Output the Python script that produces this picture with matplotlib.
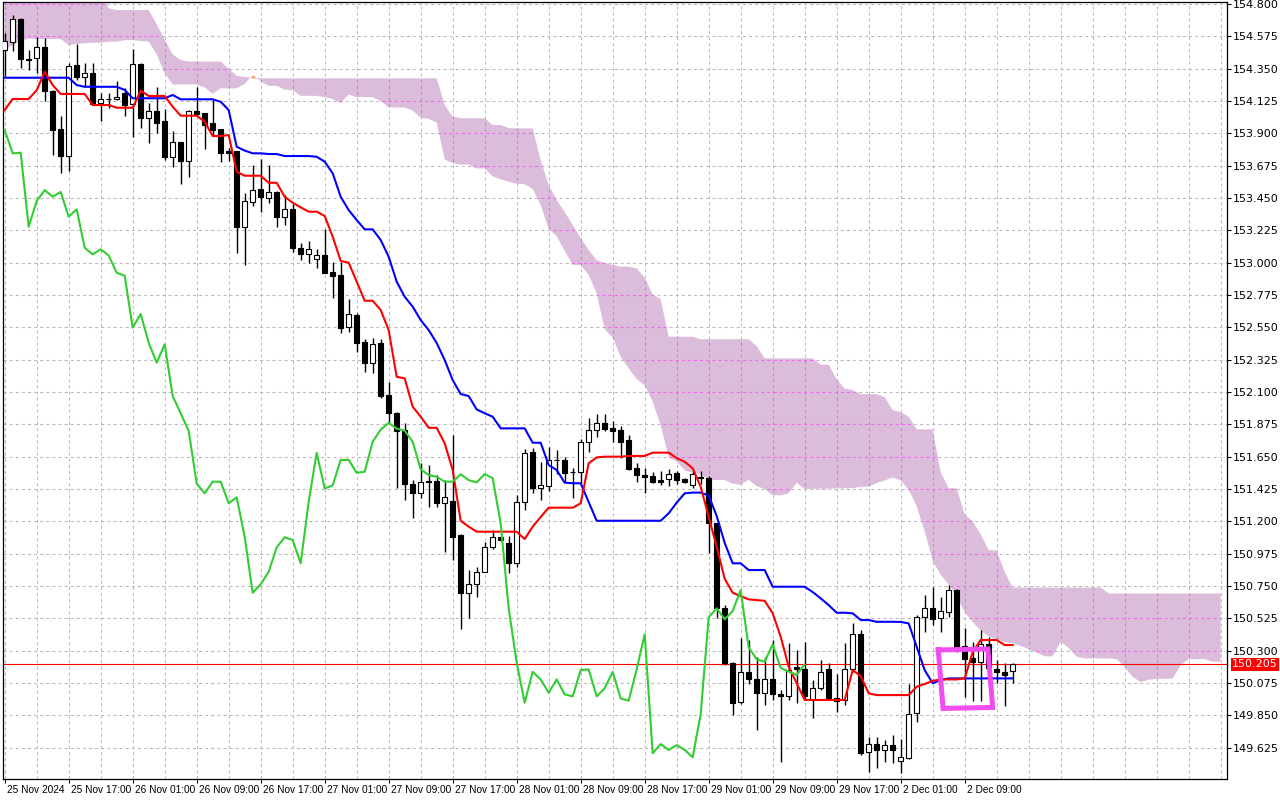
import matplotlib
matplotlib.use("Agg")
import matplotlib.pyplot as plt
import matplotlib.transforms as mtransforms
from matplotlib.path import Path
import numpy as np

plt.rcParams['font.family'] = ['DejaVu Sans']
plt.rcParams['lines.scale_dashes'] = False

# hourly candles, 25 Nov 09:00 .. 2 Dec 15:00
opens = [154.48, 154.538, 154.694, 154.42, 154.422, 154.499, 154.197, 153.932, 153.744, 154.376,
         154.290, 154.318, 154.109, 154.137, 154.137, 154.183, 154.102, 154.380, 154.009, 154.055,
         153.986, 153.733, 153.837, 153.709, 154.055, 154.040, 153.974, 153.928, 153.779, 153.777,
         153.250, 153.424, 153.513, 153.452, 153.492, 153.320, 153.371, 153.104, 153.058, 153.023,
         153.051, 152.933, 152.914, 152.550, 152.636, 152.446, 152.304, 152.439, 152.079, 151.952,
         151.835, 151.463, 151.395, 151.480, 151.483, 151.326, 151.341, 151.105, 150.703, 150.762,
         150.849, 151.019, 151.089, 151.047, 150.908, 151.336, 151.680, 151.429, 151.443, 151.627,
         151.627, 151.545, 151.545, 151.754, 151.838, 151.885, 151.847, 151.838, 151.766, 151.569,
         151.520, 151.517, 151.485, 151.493, 151.534, 151.494, 151.452, 151.510, 151.503, 151.186,
         150.595, 150.216, 149.941, 150.153, 150.100, 150.007, 150.100, 150.000, 149.986, 150.184,
         150.170, 149.957, 150.038, 150.170, 149.968, 149.957, 150.170, 150.414, 149.597, 149.650,
         149.609, 149.643, 149.534, 149.551, 149.864, 150.532, 150.595, 150.525, 150.571, 150.722,
         150.333, 150.247, 150.223, 150.344, 150.170, 150.154, 150.160]
highs = [154.60, 154.723, 154.70, 154.48, 154.568, 154.561, 154.20, 154.021, 154.392, 154.522,
         154.387, 154.387, 154.179, 154.18, 154.264, 154.213, 154.485, 154.39, 154.113, 154.220,
         154.069, 153.916, 153.84, 154.06, 154.220, 154.045, 154.132, 153.93, 153.80, 153.78,
         153.483, 153.680, 153.721, 153.680, 153.50, 153.471, 153.408, 153.139, 153.151, 153.095,
         153.232, 153.007, 153.007, 152.745, 152.652, 152.467, 152.474, 152.467, 152.167, 151.96,
         151.886, 151.487, 151.608, 151.592, 151.522, 151.487, 151.801, 151.11, 150.861, 150.880,
         151.058, 151.142, 151.10, 151.098, 151.384, 151.700, 151.71, 151.613, 151.720, 151.696,
         151.650, 151.569, 151.776, 151.917, 151.948, 151.950, 151.90, 151.862, 151.80, 151.603,
         151.569, 151.545, 151.552, 151.562, 151.552, 151.50, 151.552, 151.55, 151.515, 151.19,
         150.617, 150.22, 150.386, 150.374, 150.258, 150.258, 150.374, 150.026, 150.351, 150.304,
         150.362, 150.096, 150.235, 150.212, 150.14, 150.351, 150.490, 150.445, 149.701, 149.701,
         149.678, 149.713, 149.683, 150.068, 150.55, 150.687, 150.745, 150.675, 150.755, 150.73,
         150.455, 150.362, 150.444, 150.397, 150.235, 150.212, 150.214]
lows = [154.30, 154.475, 154.352, 154.34, 154.318, 154.127, 153.749, 153.626, 153.640, 154.271,
        154.224, 154.10, 153.988, 154.074, 154.13, 154.021, 153.877, 153.935, 153.835, 153.900,
        153.714, 153.664, 153.545, 153.598, 154.027, 153.789, 153.88, 153.703, 153.71, 153.069,
        152.984, 153.394, 153.355, 153.413, 153.250, 153.262, 153.076, 153.019, 153.0, 152.965,
        152.93, 152.752, 152.508, 152.520, 152.380, 152.241, 152.230, 152.056, 151.882, 151.43,
        151.348, 151.221, 151.360, 151.302, 151.302, 150.989, 150.931, 150.448, 150.529, 150.675,
        150.845, 151.01, 151.06, 150.838, 150.880, 151.279, 151.400, 151.348, 151.410, 151.529,
        151.476, 151.360, 151.464, 151.684, 151.786, 151.826, 151.750, 151.638, 151.56, 151.476,
        151.400, 151.464, 151.452, 151.445, 151.459, 151.464, 151.430, 151.46, 150.977, 150.525,
        150.20, 149.852, 149.93, 150.068, 149.748, 149.922, 149.956, 149.527, 149.956, 149.934,
        149.956, 149.829, 150.026, 149.956, 149.875, 149.922, 150.15, 149.574, 149.457, 149.481,
        149.527, 149.516, 149.446, 149.544, 149.806, 150.432, 150.479, 150.432, 150.536, 150.293,
        149.979, 149.947, 149.947, 150.15, 150.073, 149.915, 150.073]
closes = [154.54, 154.694, 154.417, 154.41, 154.503, 154.197, 153.923, 153.744, 154.369, 154.290,
          154.318, 154.104, 154.137, 154.14, 154.151, 154.097, 154.380, 154.009, 154.055, 153.974,
          153.737, 153.837, 153.709, 154.055, 154.037, 153.958, 153.923, 153.761, 153.765, 153.250,
          153.429, 153.505, 153.459, 153.492, 153.320, 153.371, 153.104, 153.058, 153.093, 153.051,
          152.930, 152.909, 152.548, 152.643, 152.443, 152.304, 152.432, 152.072, 151.952, 151.830,
          151.463, 151.395, 151.476, 151.476, 151.326, 151.367, 151.093, 150.703, 150.762, 150.849,
          151.019, 151.089, 151.070, 150.908, 151.336, 151.677, 151.429, 151.450, 151.627, 151.627,
          151.538, 151.545, 151.754, 151.838, 151.885, 151.845, 151.831, 151.754, 151.562, 151.522,
          151.510, 151.476, 151.476, 151.527, 151.487, 151.471, 151.529, 151.50, 151.186, 150.594,
          150.216, 149.938, 150.153, 150.100, 150.007, 150.100, 149.996, 149.982, 150.165, 150.170,
          149.982, 150.038, 150.153, 149.968, 149.952, 150.170, 150.414, 149.586, 149.650, 149.609,
          149.643, 149.609, 149.558, 149.859, 150.532, 150.595, 150.518, 150.576, 150.722, 150.323,
          150.240, 150.223, 150.344, 150.18, 150.154, 150.131, 150.205]

tenkan = [154.062, 154.139, 154.139, 154.139, 154.20, 154.329, 154.236, 154.174, 154.174, 154.174,
          154.174, 154.097, 154.097, 154.097, 154.078, 154.078, 154.078, 154.197, 154.160, 154.160,
          154.160, 154.085, 154.023, 154.023, 154.023, 153.981, 153.881, 153.881, 153.888, 153.633,
          153.605, 153.605, 153.605, 153.556, 153.556, 153.459, 153.417, 153.385, 153.355, 153.355,
          153.325, 153.181, 153.012, 153.000, 152.868, 152.735, 152.735, 152.671, 152.531, 152.206,
          152.195, 151.998, 151.928, 151.851, 151.851, 151.743, 151.557, 151.204, 151.163, 151.128,
          151.128, 151.128, 151.128, 151.128, 151.128, 151.077, 151.163, 151.23, 151.295, 151.295,
          151.295, 151.295, 151.325, 151.604, 151.645, 151.650, 151.650, 151.650, 151.655, 151.655,
          151.655, 151.678, 151.678, 151.678, 151.640, 151.615, 151.569, 151.441, 151.232, 151.023,
          150.80, 150.703, 150.680, 150.657, 150.652, 150.647, 150.560, 150.397, 150.188, 150.073,
          149.957, 149.957, 149.957, 149.957, 149.957, 149.957, 150.165, 150.124, 150.003, 149.991,
          149.991, 149.991, 149.991, 149.991, 150.049, 150.068, 150.09, 150.10, 150.10, 150.10,
          150.107, 150.291, 150.374, 150.374, 150.374, 150.339, 150.339]
kijun = [154.287, 154.287, 154.287, 154.287, 154.287, 154.287, 154.287, 154.287, 154.287, 154.236,
         154.224, 154.224, 154.224, 154.224, 154.224, 154.202, 154.144, 154.144, 154.144, 154.144,
         154.144, 154.167, 154.137, 154.137, 154.137, 154.137, 154.137, 154.120, 154.062, 153.807,
         153.780, 153.761, 153.761, 153.756, 153.756, 153.742, 153.742, 153.742, 153.742, 153.737,
         153.703, 153.622, 153.459, 153.366, 153.297, 153.232, 153.232, 153.158, 153.041, 152.868,
         152.763, 152.694, 152.601, 152.531, 152.441, 152.323, 152.183, 152.086, 152.072, 151.979,
         151.952, 151.928, 151.847, 151.847, 151.847, 151.847, 151.747, 151.747, 151.592, 151.557,
         151.469, 151.465, 151.465, 151.334, 151.204, 151.204, 151.204, 151.204, 151.204, 151.204,
         151.204, 151.204, 151.204, 151.256, 151.330, 151.395, 151.400, 151.400, 151.380, 151.237,
         151.050, 150.908, 150.908, 150.861, 150.861, 150.861, 150.745, 150.745, 150.745, 150.745,
         150.745, 150.708, 150.664, 150.617, 150.564, 150.564, 150.560, 150.513, 150.513, 150.501,
         150.501, 150.501, 150.500, 150.490, 150.327, 150.165, 150.073, 150.096, 150.107, 150.107,
         150.107, 150.107, 150.107, 150.107, 150.107, 150.107, 150.107]
# lagging span, drawn 26 bars back
chikou = [153.923, 153.761, 153.765, 153.250, 153.429, 153.505, 153.459, 153.492, 153.320, 153.371,
          153.104, 153.058, 153.093, 153.051, 152.930, 152.909, 152.548, 152.643, 152.443, 152.304,
          152.432, 152.072, 151.952, 151.830, 151.463, 151.395, 151.476, 151.476, 151.326, 151.367,
          151.093, 150.703, 150.762, 150.849, 151.019, 151.089, 151.070, 150.908, 151.336, 151.677,
          151.429, 151.450, 151.627, 151.627, 151.538, 151.545, 151.754, 151.838, 151.885, 151.845,
          151.831, 151.754, 151.562, 151.522, 151.510, 151.476, 151.476, 151.527, 151.487, 151.471,
          151.529, 151.50, 151.186, 150.594, 150.216, 149.938, 150.153, 150.100, 150.007, 150.100,
          149.996, 149.982, 150.165, 150.170, 149.982, 150.038, 150.153, 149.968, 149.952, 150.170,
          150.414, 149.586, 149.650, 149.609, 149.643, 149.609, 149.558, 149.859, 150.532, 150.595,
          150.518, 150.576, 150.722, 150.323, 150.240, 150.223, 150.344, 150.18, 150.154, 150.131,
          150.205]
# cloud, runs 26 bars past the last candle
span_a = [154.48, 154.515, 154.543, 154.561, 154.556, 154.556, 154.556, 154.556, 154.515, 154.522,
          154.527, 154.531, 154.531, 154.538, 154.538, 154.549, 154.549, 154.543, 154.538, 154.45,
          154.32, 154.24, 154.24, 154.24, 154.24, 154.22, 154.175, 154.213, 154.213, 154.213,
          154.244, 154.308, 154.262, 154.231, 154.231, 154.205, 154.199, 154.161, 154.161, 154.161,
          154.151, 154.140, 154.111, 154.171, 154.152, 154.152, 154.152, 154.126, 154.080, 154.080,
          154.080, 154.059, 154.009, 154.001, 153.975, 153.720, 153.693, 153.683, 153.683, 153.656,
          153.656, 153.601, 153.580, 153.564, 153.549, 153.546, 153.514, 153.402, 153.236, 153.183,
          153.083, 152.984, 152.984, 152.915, 152.786, 152.537, 152.479, 152.346, 152.265, 152.191,
          152.146, 152.033, 151.870, 151.645, 151.618, 151.554, 151.540, 151.528, 151.488, 151.488,
          151.488, 151.462, 151.455, 151.489, 151.444, 151.426, 151.382, 151.380, 151.395, 151.469,
          151.425, 151.427, 151.427, 151.427, 151.430, 151.430, 151.430, 151.441, 151.441, 151.467,
          151.485, 151.505, 151.485, 151.421, 151.306, 151.130, 150.925, 150.83, 150.76, 150.68,
          150.57, 150.50, 150.44, 150.40, 150.38, 150.36, 150.351, 150.333, 150.311, 150.287,
          150.261, 150.261, 150.363, 150.319, 150.258, 150.246, 150.246, 150.246, 150.246, 150.241,
          150.188, 150.117, 150.082, 150.098, 150.104, 150.104, 150.107, 150.199, 150.241, 150.241,
          150.241, 150.223, 150.223]
span_b = [154.98, 154.98, 154.98, 154.98, 154.98, 154.98, 154.98, 154.98, 154.98, 154.98,
          154.98, 154.98, 154.90, 154.770, 154.758, 154.758, 154.758, 154.758, 154.758, 154.66,
          154.55, 154.45, 154.41, 154.40, 154.40, 154.40, 154.40, 154.40, 154.35, 154.30,
          154.293, 154.286, 154.283, 154.283, 154.283, 154.283, 154.283, 154.283, 154.283, 154.283,
          154.283, 154.283, 154.283, 154.283, 154.283, 154.283, 154.283, 154.283, 154.283, 154.283,
          154.283, 154.283, 154.283, 154.283, 154.283, 154.097, 154.016, 154.005, 154.005, 154.005,
          154.005, 153.958, 153.958, 153.937, 153.935, 153.935, 153.935, 153.714, 153.540, 153.436,
          153.353, 153.262, 153.172, 153.088, 153.018, 152.998, 152.984, 152.972, 152.972, 152.960,
          152.895, 152.779, 152.746, 152.485, 152.485, 152.485, 152.485, 152.467, 152.467, 152.467,
          152.467, 152.467, 152.467, 152.467, 152.419, 152.334, 152.334, 152.334, 152.334, 152.334,
          152.334, 152.334, 152.290, 152.290, 152.189, 152.124, 152.114, 152.085, 152.085, 152.085,
          152.064, 151.974, 151.960, 151.928, 151.840, 151.840, 151.840, 151.542, 151.430, 151.430,
          151.247, 151.200, 151.111, 151.000, 150.997, 150.847, 150.739, 150.739, 150.739, 150.739,
          150.739, 150.739, 150.739, 150.739, 150.739, 150.739, 150.739, 150.739, 150.698, 150.698,
          150.698, 150.698, 150.698, 150.698, 150.698, 150.698, 150.698, 150.698, 150.698, 150.698,
          150.698, 150.698, 150.698]

time_labels = ['25 Nov 2024', '25 Nov 17:00', '26 Nov 01:00', '26 Nov 09:00', '26 Nov 17:00',
               '27 Nov 01:00', '27 Nov 09:00', '27 Nov 17:00', '28 Nov 01:00', '28 Nov 09:00',
               '28 Nov 17:00', '29 Nov 01:00', '29 Nov 09:00', '29 Nov 17:00', '2 Dec 01:00',
               '2 Dec 09:00']
price_ticks = [154.800, 154.575, 154.350, 154.125, 153.900, 153.675, 153.450, 153.225, 153.000,
               152.775, 152.550, 152.325, 152.100, 151.875, 151.650, 151.425, 151.200, 150.975,
               150.750, 150.525, 150.300, 150.075, 149.850, 149.625]
last_price = 150.205

# hand drawn marker box (bar index, price)
box_t = [116.7, 122.9, 123.5, 117.3]
box_p = [150.305, 150.312, 149.905, 149.898]

W, H = 1280, 800
fig = plt.figure(figsize=(12.8, 8), dpi=100)
fig.patch.set_facecolor('white')
ax = fig.add_axes([3 / W, 21 / H, 1224 / W, 777 / H])
ax.set_xlim(-0.21, 152.79)
ax.set_ylim(149.407, 154.814)

o = np.array(opens)
hi = np.array(highs)
lo = np.array(lows)
c = np.array(closes)
idx = np.arange(len(c))
cx = np.arange(len(span_a))
sa = np.array(span_a)
sb = np.array(span_b)

dash = (0, (2.2, 2.2))

# grid
vgrid = range(0, 153, 4)
for t in vgrid:
    ax.axvline(t, color='#c4b4c4', lw=0.75, ls=dash, zorder=0.5)
for p in price_ticks:
    ax.axhline(p, color='#a9bea9', lw=0.75, ls=(0, (2.2, 6.6)), zorder=0.5)
    ax.axhline(p, color='#cfb2cf', lw=0.75, ls=(4.4, (2.2, 6.6)), zorder=0.5)

# cloud
f1 = ax.fill_between(cx, sa, sb, where=sb >= sa, interpolate=True,
                     color='#dbbcdb', lw=0, zorder=1)
f2 = ax.fill_between(cx, sa, sb, where=sa > sb, interpolate=True,
                     color='#f4a460', lw=0, zorder=1)
cloud_path = Path.make_compound_path(*(list(f1.get_paths()) + list(f2.get_paths())))

# grid shows magenta inside the cloud
for t in vgrid:
    ln = ax.axvline(t, color='#f066f0', lw=0.75, ls=dash, zorder=1.5)
    ln.set_clip_path(cloud_path, ax.transData)
for p in price_ticks:
    ln = ax.axhline(p, color='#f066f0', lw=0.75, ls=dash, zorder=1.5)
    ln.set_clip_path(cloud_path, ax.transData)

# price line
ax.axhline(last_price, color='#ff0000', lw=0.8, zorder=2.5)

# candles
up = c >= o
ax.vlines(idx, lo, hi, color='black', lw=1.0, zorder=3)
bot = np.minimum(o, c)
hgt = np.abs(c - o)
ax.bar(idx[up], hgt[up], bottom=bot[up], width=0.58, color='white',
       edgecolor='black', lw=0.8, zorder=3.5)
ax.bar(idx[~up], hgt[~up], bottom=bot[~up], width=0.58, color='black',
       edgecolor='black', lw=0.8, zorder=3.5)

# ichimoku lines
ax.plot(idx, kijun, color='#0000ff', lw=1.5, zorder=4)
ax.plot(idx, tenkan, color='#ff0000', lw=1.5, zorder=4.1)
ax.plot(np.arange(len(chikou)), chikou, color='#32cd32', lw=1.5, zorder=4.2)

# marker box
ax.plot(box_t + box_t[:1], box_p + box_p[:1], color='#f04cf0', lw=3.6,
        solid_joinstyle='miter', zorder=6)

# axes
for s in ax.spines.values():
    s.set_color('black')
    s.set_linewidth(0.9)

ax.yaxis.tick_right()
ax.set_yticks(price_ticks)
ax.set_yticklabels([f'{p:.3f}' for p in price_ticks])
ax.tick_params(axis='y', direction='out', length=3, width=0.75, pad=1.5,
               labelsize=8, colors='black')

label_pos = np.arange(0, 8 * len(time_labels), 8)
ax.set_xticks(label_pos)
ax.set_xticklabels(time_labels, family=['Liberation Sans', 'DejaVu Sans'], fontsize=7.3)
ax.tick_params(axis='x', direction='out', length=3, width=0.75, pad=1.5, colors='black')
shift = mtransforms.ScaledTranslation(1.5 / 72, 0, fig.dpi_scale_trans)
for lbl in ax.get_xticklabels():
    lbl.set_horizontalalignment('left')
    lbl.set_transform(lbl.get_transform() + shift)

ax.text(1.004, last_price, f'{last_price:.3f}', transform=ax.get_yaxis_transform(),
        ha='left', va='center', fontsize=8, color='white', clip_on=False, zorder=10,
        bbox=dict(boxstyle='square,pad=0.12', fc='#ff0000', ec='none'))

fig.savefig('out.png', dpi=100)
